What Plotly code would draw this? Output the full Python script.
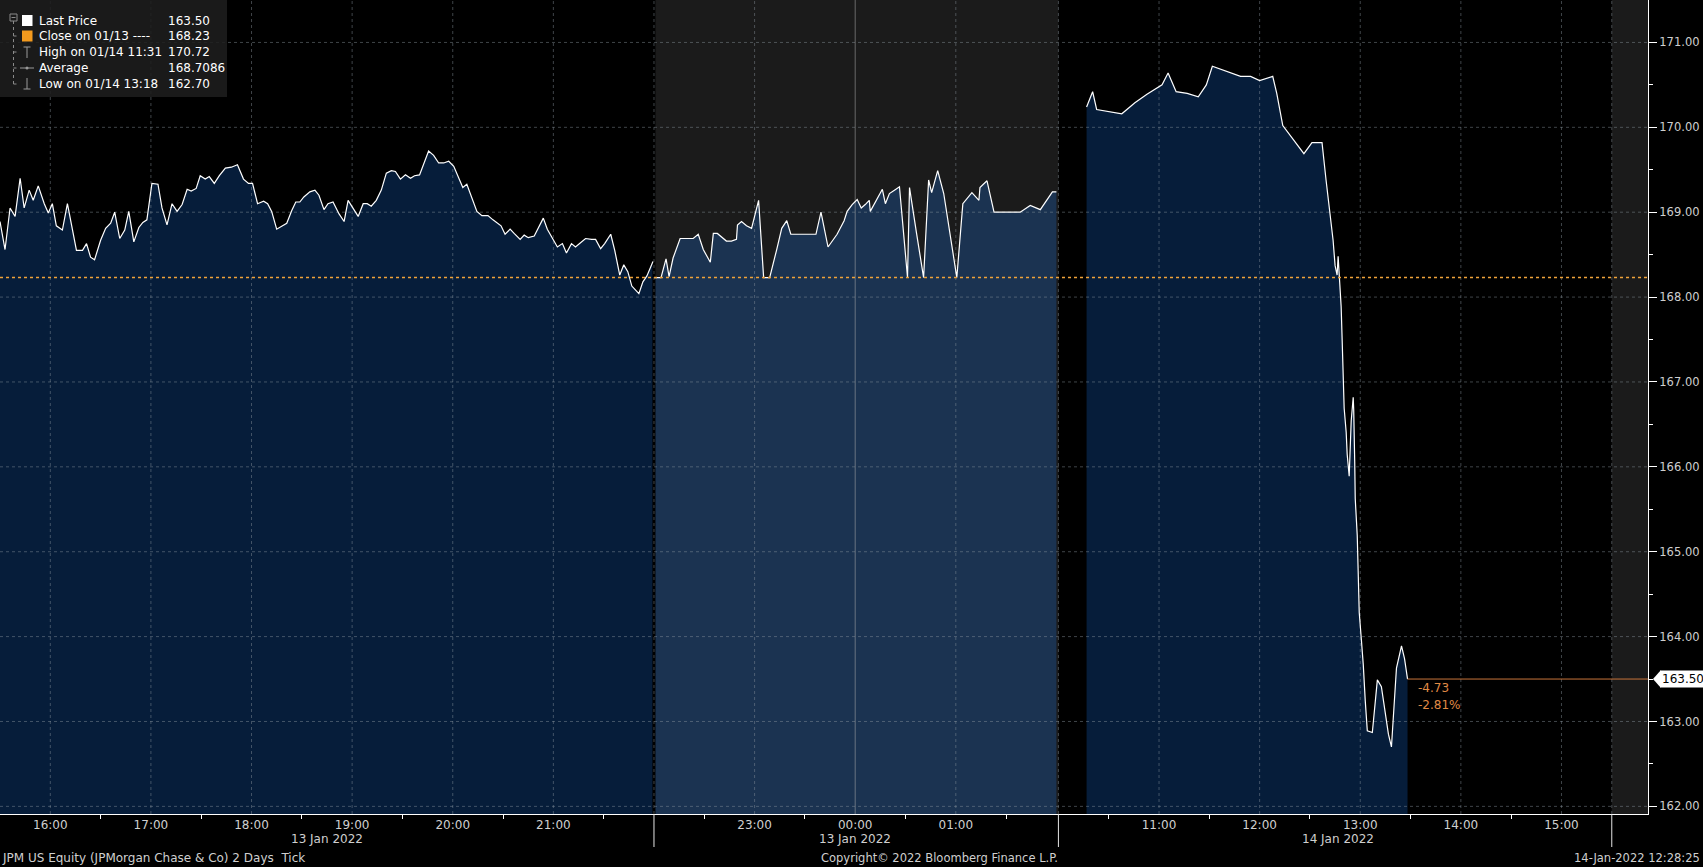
import plotly.graph_objects as go

# ---------------- data ----------------
# x = position on the compressed trading clock, in hours
#   13 Jan session starts at 0 (15:30), after-hours 6.5 (22:00) .. 10.52 (02:00),
#   14 Jan session: 11:00 -> 11.52, 12:00 -> 12.52 ...
a_x = [0.00,0.05,0.10,0.15,0.20,0.24,0.29,0.33,0.38,0.44,
       0.48,0.52,0.56,0.62,0.67,0.71,0.76,0.82,0.86,0.90,
       0.94,1.00,1.05,1.10,1.14,1.19,1.24,1.28,1.33,1.38,
       1.42,1.46,1.51,1.57,1.61,1.66,1.71,1.76,1.81,1.86,
       1.90,1.95,1.99,2.04,2.08,2.13,2.18,2.24,2.30,2.36,
       2.42,2.47,2.51,2.56,2.62,2.66,2.70,2.75,2.80,2.85,
       2.90,2.94,2.98,3.02,3.08,3.13,3.17,3.22,3.26,3.31,
       3.37,3.42,3.46,3.51,3.56,3.61,3.65,3.69,3.74,3.79,
       3.84,3.89,3.93,3.98,4.03,4.08,4.12,4.17,4.21,4.26,
       4.31,4.36,4.41,4.46,4.51,4.55,4.60,4.64,4.69,4.74,
       4.79,4.85,4.90,4.94,4.98,5.02,5.07,5.11,5.17,5.21,
       5.25,5.31,5.36,5.40,5.44,5.49,5.54,5.59,5.63,5.68,
       5.72,5.77,5.82,5.88,5.92,5.97,6.01,6.07,6.11,6.16,
       6.20,6.24,6.28,6.35,6.39,6.43,6.49]
a_y = [168.89,168.56,169.05,168.95,169.40,169.05,169.26,169.14,169.31,169.10,
       168.99,169.10,168.84,168.79,169.10,168.87,168.55,168.55,168.63,168.47,
       168.44,168.67,168.81,168.87,169.00,168.69,168.79,169.01,168.65,168.82,
       168.88,168.91,169.34,169.33,169.05,168.85,169.10,169.01,169.09,169.27,
       169.25,169.28,169.43,169.39,169.42,169.34,169.43,169.52,169.53,169.56,
       169.39,169.34,169.34,169.10,169.13,169.10,169.01,168.80,168.84,168.87,
       169.02,169.12,169.12,169.18,169.24,169.26,169.20,169.03,169.10,169.12,
       168.98,168.89,169.14,169.05,168.95,169.10,169.10,169.07,169.14,169.26,
       169.46,169.49,169.48,169.39,169.44,169.40,169.43,169.44,169.56,169.72,
       169.67,169.58,169.58,169.60,169.54,169.42,169.29,169.33,169.18,169.01,
       168.96,168.96,168.91,168.87,168.84,168.74,168.80,168.75,168.68,168.73,
       168.70,168.72,168.83,168.93,168.80,168.69,168.59,168.63,168.52,168.63,
       168.59,168.64,168.69,168.68,168.68,168.57,168.63,168.74,168.55,168.26,
       168.38,168.30,168.13,168.04,168.18,168.25,168.42]

b_x = [6.50,6.57,6.62,6.65,6.69,6.76,6.81,6.89,6.94,6.99,
       7.06,7.09,7.13,7.22,7.27,7.32,7.33,7.37,7.42,7.47,
       7.50,7.54,7.59,7.65,7.72,7.77,7.82,7.86,7.92,8.02,
       8.11,8.16,8.23,8.32,8.39,8.42,8.47,8.52,8.56,8.60,
       8.64,8.65,8.71,8.77,8.80,8.84,8.89,8.94,9.02,9.04,
       9.11,9.18,9.23,9.26,9.32,9.38,9.51,9.57,9.66,9.73,
       9.74,9.81,9.88,10.01,10.14,10.24,10.34,10.46,10.50]
b_y = [168.23,168.23,168.45,168.24,168.46,168.69,168.69,168.69,168.74,168.56,
       168.41,168.75,168.75,168.66,168.66,168.68,168.85,168.89,168.84,168.81,
       168.95,169.14,168.23,168.23,168.56,168.81,168.90,168.74,168.74,168.74,
       168.74,169.00,168.59,168.74,168.90,169.01,169.09,169.15,169.05,169.09,
       169.14,169.01,169.14,169.27,169.10,169.22,169.26,169.30,168.23,169.29,
       168.75,168.23,169.38,169.23,169.49,169.22,168.23,169.10,169.23,169.14,
       169.29,169.37,169.00,169.00,169.00,169.08,169.03,169.24,169.24]

c_x = [10.80,10.86,10.90,11.02,11.15,11.28,11.40,11.55,11.61,11.69,
       11.80,11.91,11.99,12.05,12.19,12.33,12.43,12.52,12.65,12.69,
       12.75,12.86,12.96,13.04,13.14,13.18,
       13.25,13.27,13.29,13.30,13.31,13.33,13.34,13.35,13.36,13.38,
       13.39,13.41,13.42,13.43,13.45,13.455,13.465,13.47,13.49,13.50,
       13.51,13.53,13.55,13.57,13.59,13.64,13.67,13.69,13.73,13.77,
       13.80,13.83,13.85,13.88,13.93,13.96,13.99]
c_y = [170.24,170.42,170.21,170.19,170.16,170.29,170.39,170.50,170.64,170.42,
       170.40,170.36,170.50,170.72,170.66,170.60,170.60,170.55,170.60,170.40,
       170.02,169.85,169.69,169.82,169.82,169.38,
       168.67,168.37,168.26,168.48,168.30,167.89,167.50,167.02,166.69,166.41,
       166.15,165.89,166.19,166.54,166.82,166.67,166.06,165.63,165.19,164.67,
       164.28,163.98,163.67,163.24,162.89,162.87,163.24,163.49,163.41,163.11,
       162.85,162.70,163.06,163.63,163.89,163.74,163.50]

close_prev = 168.23
last_price = 163.50

legend_labels = ["Last Price", "Close on 01/13 ----", "High on 01/14 11:31", "Average", "Low on 01/14 13:18"]
legend_values = ["163.50", "168.23", "170.72", "168.7086", "162.70"]

hour_pos = [0.5, 1.5, 2.5, 3.5, 4.5, 5.5, 7.5, 8.5, 9.5, 11.52, 12.52, 13.52, 14.52, 15.52]
hour_labels = ["16:00", "17:00", "18:00", "19:00", "20:00", "21:00", "23:00", "00:00", "01:00",
               "11:00", "12:00", "13:00", "14:00", "15:00"]
half_pos = [1.0, 2.0, 3.0, 4.0, 5.0, 6.0, 7.0, 8.0, 9.0, 10.0, 11.02, 12.02, 13.02, 14.02, 15.02]
session_breaks = [6.5, 10.52, 16.02]
day_line = 8.5
date_pos = [3.25, 8.5, 13.3]
date_labels = ["13 Jan 2022", "13 Jan 2022", "14 Jan 2022"]
y_ticks = [162, 163, 164, 165, 166, 167, 168, 169, 170, 171]
y_minor = [162.5, 163.5, 164.5, 165.5, 166.5, 167.5, 168.5, 169.5, 170.5]

X_RANGE = [0, 16.38]
Y_RANGE = [161.91, 171.5]

# ---------------- styling ----------------
W, H = 1703, 867
ML, MR, MT, MB = 0, 55, 0, 53
PW, PH = W - ML - MR, H - MT - MB
FONT = "DejaVu Sans"
TXT = "#cfcfcf"
NAVY = "#061d3a"
NAVY_AH = "#1b3351"
GRAY_BG = "#1b1b1b"
GRID = "rgba(140,150,160,0.45)"
ORANGE = "#f0a33a"


def px(x):
    return x / PW


def py(y):
    return 1 - y / PH


fig = go.Figure()

# fills
for xs, ys, col in [(a_x, a_y, NAVY), (b_x, b_y, NAVY_AH), (c_x, c_y, NAVY)]:
    fig.add_trace(go.Scatter(x=xs, y=ys, mode="lines", line=dict(width=0),
                             fill="tozeroy", fillcolor=col, hoverinfo="skip"))

# black session divider
fig.add_trace(go.Scatter(x=[session_breaks[0], session_breaks[0]], y=Y_RANGE, mode="lines",
                         line=dict(color="black", width=3), hoverinfo="skip"))

# grid (drawn above the fills)
gx, gy = [], []
for v in hour_pos + session_breaks:
    if v == day_line:
        continue
    gx += [v, v, None]
    gy += [Y_RANGE[0], Y_RANGE[1], None]
for v in y_ticks:
    gx += [X_RANGE[0], X_RANGE[1], None]
    gy += [v, v, None]
fig.add_trace(go.Scatter(x=gx, y=gy, mode="lines", line=dict(color=GRID, width=1, dash="3px,3px"),
                         hoverinfo="skip"))
fig.add_trace(go.Scatter(x=[day_line, day_line], y=Y_RANGE, mode="lines",
                         line=dict(color="rgba(170,170,170,0.55)", width=1), hoverinfo="skip"))

# price lines
for xs, ys in [(a_x, a_y), (b_x, b_y), (c_x, c_y)]:
    fig.add_trace(go.Scatter(x=xs, y=ys, mode="lines", line=dict(color="white", width=1.2),
                             hoverinfo="skip"))

# previous close (dotted)
fig.add_trace(go.Scatter(x=X_RANGE, y=[close_prev, close_prev], mode="lines",
                         line=dict(color=ORANGE, width=1.6, dash="dot"), hoverinfo="skip"))
# last price line
fig.add_trace(go.Scatter(x=[c_x[-1], X_RANGE[1]], y=[last_price, last_price], mode="lines",
                         line=dict(color="#c8743a", width=1), hoverinfo="skip"))

shapes = []
# gray (non-regular hours) backgrounds
shapes.append(dict(type="rect", xref="x", yref="paper", x0=session_breaks[0], x1=session_breaks[1],
                   y0=0, y1=1, fillcolor=GRAY_BG, line=dict(width=0), layer="below"))
shapes.append(dict(type="rect", xref="x", yref="paper", x0=session_breaks[2], x1=X_RANGE[1],
                   y0=0, y1=1, fillcolor=GRAY_BG, line=dict(width=0), layer="below"))
# session dividers below the axis
for v in session_breaks:
    shapes.append(dict(type="line", xref="x", yref="paper", x0=v, x1=v, y0=0, y1=py(847),
                       line=dict(color="#e6e6e6", width=1)))

# legend box
shapes.append(dict(type="rect", xref="paper", yref="paper", x0=px(0), x1=px(227), y0=py(0), y1=py(97),
                   fillcolor="rgba(30,30,30,0.88)", line=dict(width=0)))
TREE = "#8a8a8a"
shapes.append(dict(type="rect", xref="paper", yref="paper", x0=px(10), x1=px(17), y0=py(14), y1=py(21),
                   line=dict(color=TREE, width=1)))
shapes.append(dict(type="line", xref="paper", yref="paper", x0=px(11.5), x1=px(15.5), y0=py(17.5), y1=py(17.5),
                   line=dict(color=TREE, width=1)))
shapes.append(dict(type="line", xref="paper", yref="paper", x0=px(13.5), x1=px(13.5), y0=py(21), y1=py(84),
                   line=dict(color=TREE, width=1, dash="dot")))
for ry in [36, 52, 68, 84]:
    shapes.append(dict(type="line", xref="paper", yref="paper", x0=px(13.5), x1=px(19), y0=py(ry), y1=py(ry),
                       line=dict(color=TREE, width=1, dash="dot")))
shapes.append(dict(type="rect", xref="paper", yref="paper", x0=px(22), x1=px(32.5), y0=py(15), y1=py(26),
                   fillcolor="white", line=dict(width=0)))
shapes.append(dict(type="rect", xref="paper", yref="paper", x0=px(22), x1=px(32.5), y0=py(30.5), y1=py(41.5),
                   fillcolor="#f39a1e", line=dict(width=0)))
ICON = "#9a9a9a"
shapes.append(dict(type="line", xref="paper", yref="paper", x0=px(27), x1=px(27), y0=py(47), y1=py(58),
                   line=dict(color=ICON, width=1)))
shapes.append(dict(type="line", xref="paper", yref="paper", x0=px(23.5), x1=px(30.5), y0=py(47), y1=py(47),
                   line=dict(color=ICON, width=1)))
shapes.append(dict(type="line", xref="paper", yref="paper", x0=px(20), x1=px(34), y0=py(68), y1=py(68),
                   line=dict(color=ICON, width=1)))
shapes.append(dict(type="circle", xref="paper", yref="paper", x0=px(25.5), x1=px(28.5), y0=py(66.5), y1=py(69.5),
                   fillcolor=ICON, line=dict(width=0)))
shapes.append(dict(type="line", xref="paper", yref="paper", x0=px(27), x1=px(27), y0=py(78), y1=py(89),
                   line=dict(color=ICON, width=1)))
shapes.append(dict(type="line", xref="paper", yref="paper", x0=px(23.5), x1=px(30.5), y0=py(89), y1=py(89),
                   line=dict(color=ICON, width=1)))
# arrow for the last-price tag
shapes.append(dict(type="path", xref="paper", yref="y", xsizemode="pixel", ysizemode="pixel",
                   xanchor=1, yanchor=last_price, path="M 5,0 L 13,9 L 13,-9 Z",
                   fillcolor="white", line=dict(width=0)))

annotations = []
row_y = [20.5, 36, 52.3, 68.3, 84.3]
for lab, val, ry in zip(legend_labels, legend_values, row_y):
    annotations.append(dict(xref="paper", yref="paper", x=px(37), y=py(ry), text=lab, showarrow=False,
                            xanchor="left", yanchor="middle", font=dict(family=FONT, size=12, color="white")))
    annotations.append(dict(xref="paper", yref="paper", x=px(166), y=py(ry), text=val, showarrow=False,
                            xanchor="left", yanchor="middle", font=dict(family=FONT, size=12, color="white")))

# last price tag
annotations.append(dict(xref="paper", yref="y", x=1, y=last_price, xanchor="left", xshift=12,
                        text=f"{last_price:.2f}", showarrow=False, bgcolor="white", borderpad=1,
                        font=dict(family=FONT, size=12, color="black")))
# change vs close
chg = last_price - close_prev
pct = chg / close_prev * 100
annotations.append(dict(xref="x", yref="y", x=c_x[-1], y=last_price, xanchor="left", yanchor="middle",
                        xshift=8, yshift=-9, text=f"{chg:.2f}", showarrow=False,
                        font=dict(family=FONT, size=12, color="#e08a45")))
annotations.append(dict(xref="x", yref="y", x=c_x[-1], y=last_price, xanchor="left", yanchor="middle",
                        xshift=8, yshift=-26, text=f"{pct:.2f}%", showarrow=False,
                        font=dict(family=FONT, size=12, color="#e08a45")))

# date row
for dp, dl in zip(date_pos, date_labels):
    annotations.append(dict(xref="x", yref="paper", x=dp, y=py(839), text=dl, showarrow=False,
                            xanchor="center", yanchor="middle", font=dict(family=FONT, size=12, color=TXT)))
# footer
annotations.append(dict(xref="paper", yref="paper", x=px(0), y=py(858),
                        text="JPM US Equity (JPMorgan Chase & Co) 2 Days  Tick", showarrow=False,
                        xanchor="left", yanchor="middle", font=dict(family=FONT, size=12, color=TXT)))
annotations.append(dict(xref="paper", yref="paper", x=px(819), y=py(858),
                        text="Copyright© 2022 Bloomberg Finance L.P.", showarrow=False,
                        xanchor="left", yanchor="middle", font=dict(family=FONT, size=11.5, color=TXT)))
annotations.append(dict(xref="paper", yref="paper", x=px(1702), y=py(858),
                        text="14-Jan-2022 12:28:25", showarrow=False,
                        xanchor="right", yanchor="middle", font=dict(family=FONT, size=11.5, color=TXT)))

fig.update_layout(
    width=W, height=H,
    margin=dict(l=ML, r=MR, t=MT, b=MB, pad=0),
    paper_bgcolor="black", plot_bgcolor="black",
    showlegend=False, hovermode=False,
    shapes=shapes, annotations=annotations,
    xaxis=dict(range=X_RANGE, showgrid=False, zeroline=False, showline=True, linecolor="white", linewidth=1,
               tickmode="array", tickvals=hour_pos, ticktext=hour_labels, ticks="",
               tickfont=dict(family=FONT, size=12, color=TXT),
               minor=dict(tickmode="array", tickvals=half_pos, ticks="outside", ticklen=4,
                          tickcolor="white", showgrid=False)),
    yaxis=dict(range=Y_RANGE, side="right", showgrid=False, zeroline=False, showline=True,
               linecolor="white", linewidth=1, tickmode="array", tickvals=y_ticks,
               ticktext=[f"{v:.2f}" for v in y_ticks], ticks="outside", ticklen=8, tickcolor="white",
               tickfont=dict(family=FONT, size=11.5, color=TXT),
               minor=dict(tickmode="array", tickvals=y_minor, ticks="outside", ticklen=4,
                          tickcolor="white", showgrid=False)),
)

fig.write_html("out.html", config={"displayModeBar": False},
               post_script="document.body.style.margin='0';document.body.style.background='black';")
